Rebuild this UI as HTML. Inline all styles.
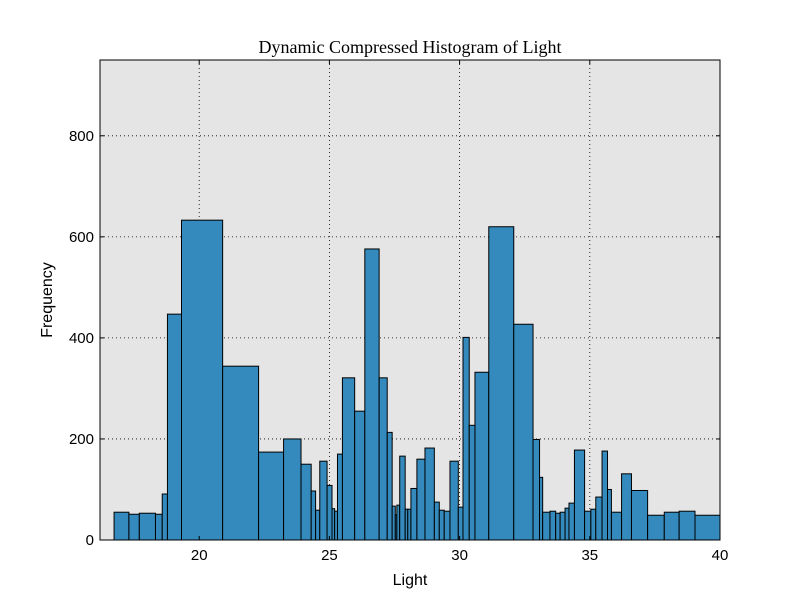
<!DOCTYPE html>
<html><head><meta charset="utf-8"><style>
html,body{margin:0;padding:0;background:#fff;}
svg{display:block;font-family:"Liberation Sans","DejaVu Sans",sans-serif;}
</style></head><body>
<svg id="chart" width="800" height="600">
<rect width="800" height="600" fill="#ffffff"/>
<rect x="100" y="60" width="620" height="480" fill="#e5e5e5"/>
<g id="grid"></g>
<g id="bars"></g>
<g id="ticks"></g>
<rect x="100" y="60" width="620" height="480" fill="none" stroke="#000" stroke-width="1"/>
<text x="410" y="53" text-anchor="middle" font-family="'Liberation Serif','DejaVu Serif',serif" font-size="18">Dynamic Compressed Histogram of Light</text>
<text x="410" y="585" text-anchor="middle" font-size="16">Light</text>
<text transform="translate(52,300) rotate(-90)" text-anchor="middle" font-size="16">Frequency</text>
</svg>
<script>
const binEdges=[16.73,17.30,17.70,18.32,18.58,18.78,19.32,20.90,22.28,23.24,23.91,24.30,24.47,24.63,24.91,25.10,25.20,25.31,25.50,25.97,26.36,26.91,27.22,27.41,27.53,27.59,27.70,27.91,28.01,28.13,28.36,28.67,29.03,29.22,29.41,29.63,29.95,30.13,30.37,30.59,31.12,32.08,32.82,33.07,33.19,33.47,33.69,33.86,34.05,34.20,34.41,34.80,35.04,35.23,35.47,35.68,35.83,36.22,36.60,37.22,37.86,38.43,39.04,40];
const frequencies=[55,51,53,51,91,447,633,344,174,200,150,97,59,156,108,62,57,170,321,255,576,321,213,67,50,69,166,61,61,102,160,182,75,59,57,156,65,401,227,332,620,427,199,124,55,57,53,55,63,73,178,57,61,85,176,100,55,131,98,49,55,57,49];
const xTicks=[20,25,30,35,40];
const yTicks=[0,200,400,600,800];
const xMin=16.19,xMax=40,yMin=0,yMax=950;
const L=100,R=720,T=60,B=540;
const sx=v=>L+(v-xMin)/(xMax-xMin)*(R-L);
const sy=v=>B-(v-yMin)/(yMax-yMin)*(B-T);
const NS="http://www.w3.org/2000/svg";
const mk=(t,a)=>{const e=document.createElementNS(NS,t);for(const k in a)e.setAttribute(k,a[k]);return e;};
const grid=document.getElementById('grid'),bars=document.getElementById('bars'),ticks=document.getElementById('ticks');
xTicks.forEach(v=>{
  const x=sx(v);
  const g=mk('line',{x1:x,x2:x,y1:T,y2:B,stroke:'#000','stroke-width':0.8,'stroke-dasharray':'1,3'});
  
  
  grid.appendChild(g);
  const t1=mk('line',{x1:x,x2:x,y1:B,y2:B-4,stroke:'#000'});
  
  
  ticks.appendChild(t1);
  const t2=mk('line',{x1:x,x2:x,y1:T,y2:T+4,stroke:'#000'});
  
  
  ticks.appendChild(t2);
  const l=mk('text',{x:x,y:B+20,'text-anchor':'middle','font-size':15});
  l.textContent=v;
  
  
  ticks.appendChild(l);
});
yTicks.forEach(v=>{
  const y=sy(v);
  const g=mk('line',{x1:L,x2:R,y1:y,y2:y,stroke:'#000','stroke-width':0.8,'stroke-dasharray':'1,3'});
  
  
  grid.appendChild(g);
  const t1=mk('line',{x1:L,x2:L+4,y1:y,y2:y,stroke:'#000'});
  
  
  ticks.appendChild(t1);
  const t2=mk('line',{x1:R,x2:R-4,y1:y,y2:y,stroke:'#000'});
  
  
  ticks.appendChild(t2);
  const l=mk('text',{x:L-6,y:y+5,'text-anchor':'end','font-size':15});
  l.textContent=v;
  
  
  ticks.appendChild(l);
});
frequencies.forEach((f,i)=>{
  const x0=sx(binEdges[i]),x1=sx(binEdges[i+1]);
  const r=mk('rect',{x:x0,y:sy(f),width:x1-x0,height:sy(0)-sy(f),fill:'#348abd',stroke:'#000','stroke-width':1});
  
  
  bars.appendChild(r);
});
</script>
</body></html>
